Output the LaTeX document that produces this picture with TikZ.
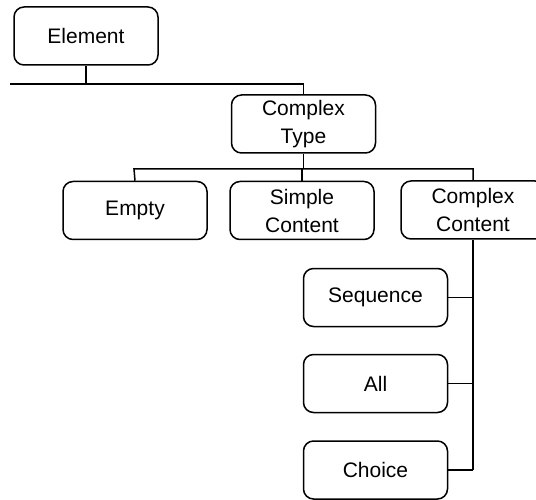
\documentclass[tikz,border=0pt]{standalone}
\usepackage{fontspec}
\setmainfont{Liberation Sans}
\begin{document}
\begin{tikzpicture}[x=1pt,y=-1pt,
  box/.style={draw, line width=1.5pt, rounded corners=10pt,
    minimum width=144pt, minimum height=58pt, align=center,
    inner sep=0pt, font=\fontsize{21}{28}\selectfont},
  wire/.style={line width=1.5pt}]
\clip (0,0) rectangle (536,500);
\useasboundingbox (0,0) rectangle (536,500);

% boxes
\node[box] (el)  at (86,36)     {Element};
\node[box] (ct)  at (303.5,124) {Complex\\Type};
\node[box] (em)  at (135,210.5) {Empty};
\node[box] (sc)  at (302,210.5) {Simple\\Content};
\node[box] (cc)  at (473,210)   {Complex\\Content};
\node[box] (seq) at (375.5,297.5) {Sequence};
\node[box] (all) at (375.5,383.5) {All};
\node[box] (ch)  at (375.5,470)   {Choice};

% bus lines
\coordinate (busA) at (10,84);
\coordinate (busB) at (134,169);
\coordinate (spine) at (473,470);

% Element to Complex Type
\draw[wire] (el.south) -- (el.south |- busA);
\draw[wire] (busA) -- (ct.north |- busA) -- (ct.north);

% Complex Type to its three kinds
\draw[wire] (ct.south) -- (ct.south |- busB);
\draw[wire] (em.north) -- (busB) -- (cc.north |- busB) -- (cc.north);
\draw[wire] (sc.north) -- (sc.north |- busB);

% Complex Content to its compositors
\draw[wire] (cc.south) -- (cc.south |- spine);
\draw[wire] (seq.east) -- (seq.east -| spine);
\draw[wire] (all.east) -- (all.east -| spine);
\draw[wire] (ch.east) -- (ch.east -| spine);
\end{tikzpicture}
\end{document}
